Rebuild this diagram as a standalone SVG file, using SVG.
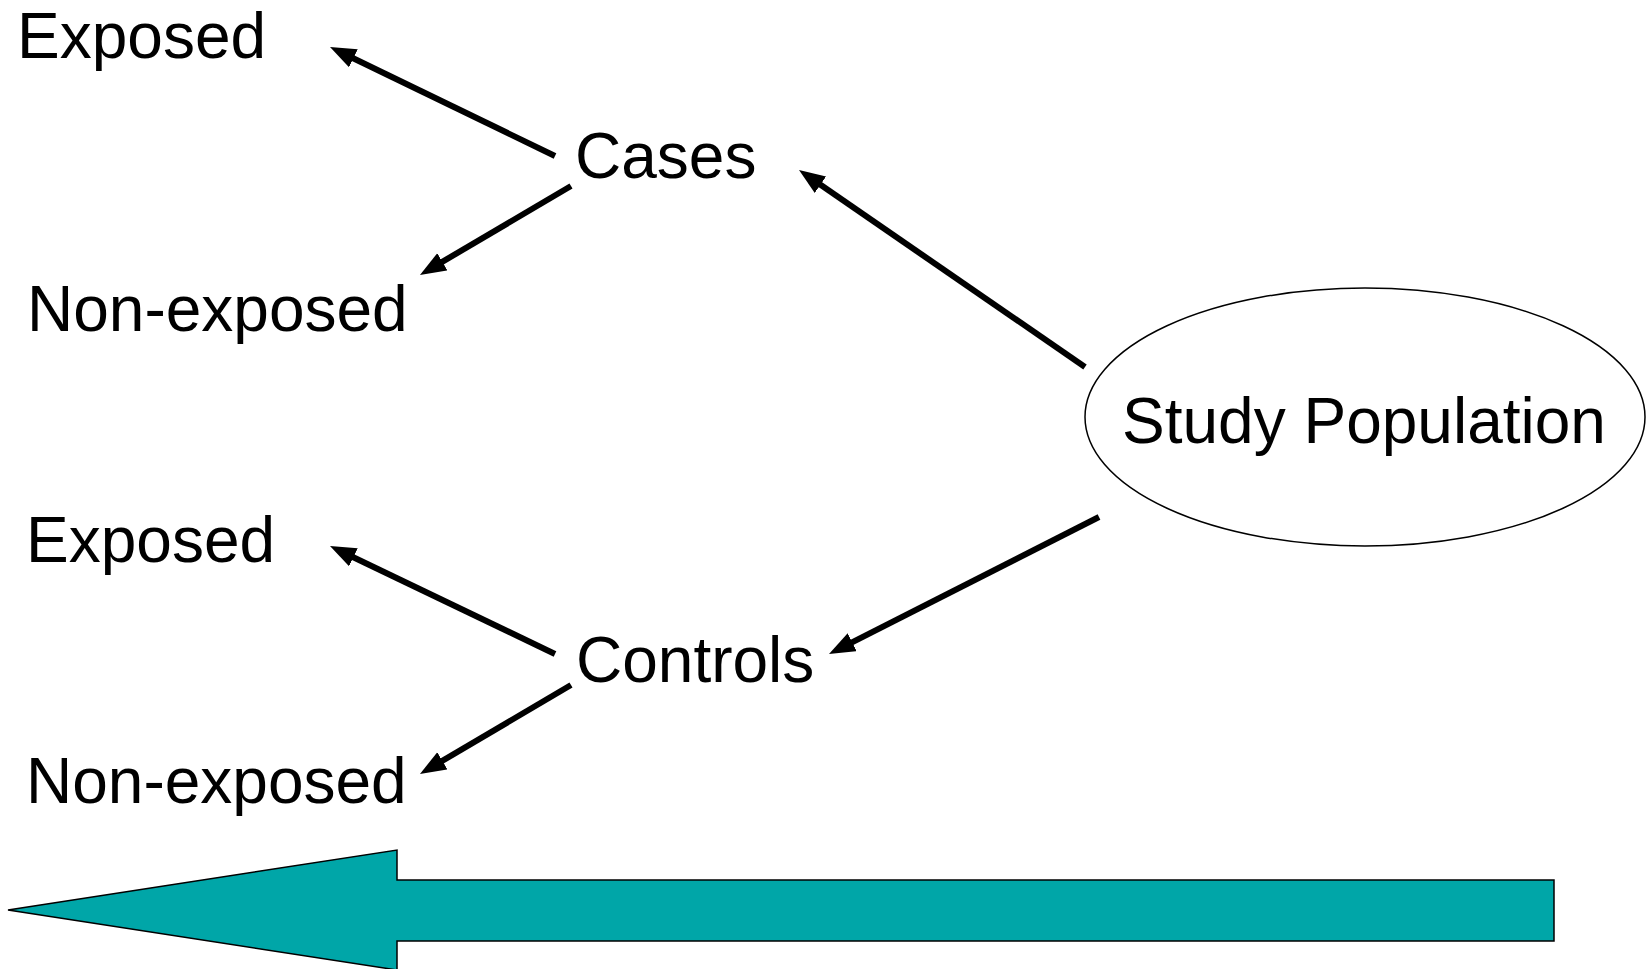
<svg xmlns="http://www.w3.org/2000/svg" width="1652" height="969" viewBox="0 0 1652 969">
<style>
text{font-family:"Liberation Sans",Arial,sans-serif;font-size:64px;fill:#000}
.c{stroke:#000;stroke-width:6;fill:none}
</style>
<defs>
<marker id="ah" markerUnits="userSpaceOnUse" markerWidth="28" markerHeight="22" refX="14" refY="10" orient="auto">
<path d="M0,0 L26,10 L0,20 z" fill="#000"/>
</marker>
</defs>
<rect width="1652" height="969" fill="#fff"/>
<g id="connectors">
<line class="c" x1="555" y1="156" x2="340.8" y2="52.2" marker-end="url(#ah)"/>
<line class="c" x1="571" y1="186" x2="430.3" y2="268.9" marker-end="url(#ah)"/>
<line class="c" x1="1085" y1="367" x2="808.9" y2="176.8" marker-end="url(#ah)"/>
<line class="c" x1="1099" y1="517" x2="839.7" y2="648.6" marker-end="url(#ah)"/>
<line class="c" x1="555" y1="654" x2="340.8" y2="551.2" marker-end="url(#ah)"/>
<line class="c" x1="571" y1="685" x2="430.3" y2="767.9" marker-end="url(#ah)"/>
</g>
<g id="study-population">
<ellipse cx="1365" cy="417" rx="280" ry="129" fill="#fff" stroke="#000" stroke-width="1.5"/>
<text x="1122" y="443">Study Population</text>
</g>
<g id="cases"><text x="575" y="178">Cases</text></g>
<g id="controls"><text x="576" y="682">Controls</text></g>
<g id="cases-exposed"><text x="17" y="58">Exposed</text></g>
<g id="cases-nonexposed"><text x="27" y="331">Non-exposed</text></g>
<g id="controls-exposed"><text x="26" y="562">Exposed</text></g>
<g id="controls-nonexposed"><text x="26" y="803">Non-exposed</text></g>
<g id="direction-arrow">
<polygon points="8,910 397,850 397,880 1554,880 1554,941 397,941 397,970" fill="#00A6A8" stroke="#000" stroke-width="1.5"/>
</g>
</svg>
